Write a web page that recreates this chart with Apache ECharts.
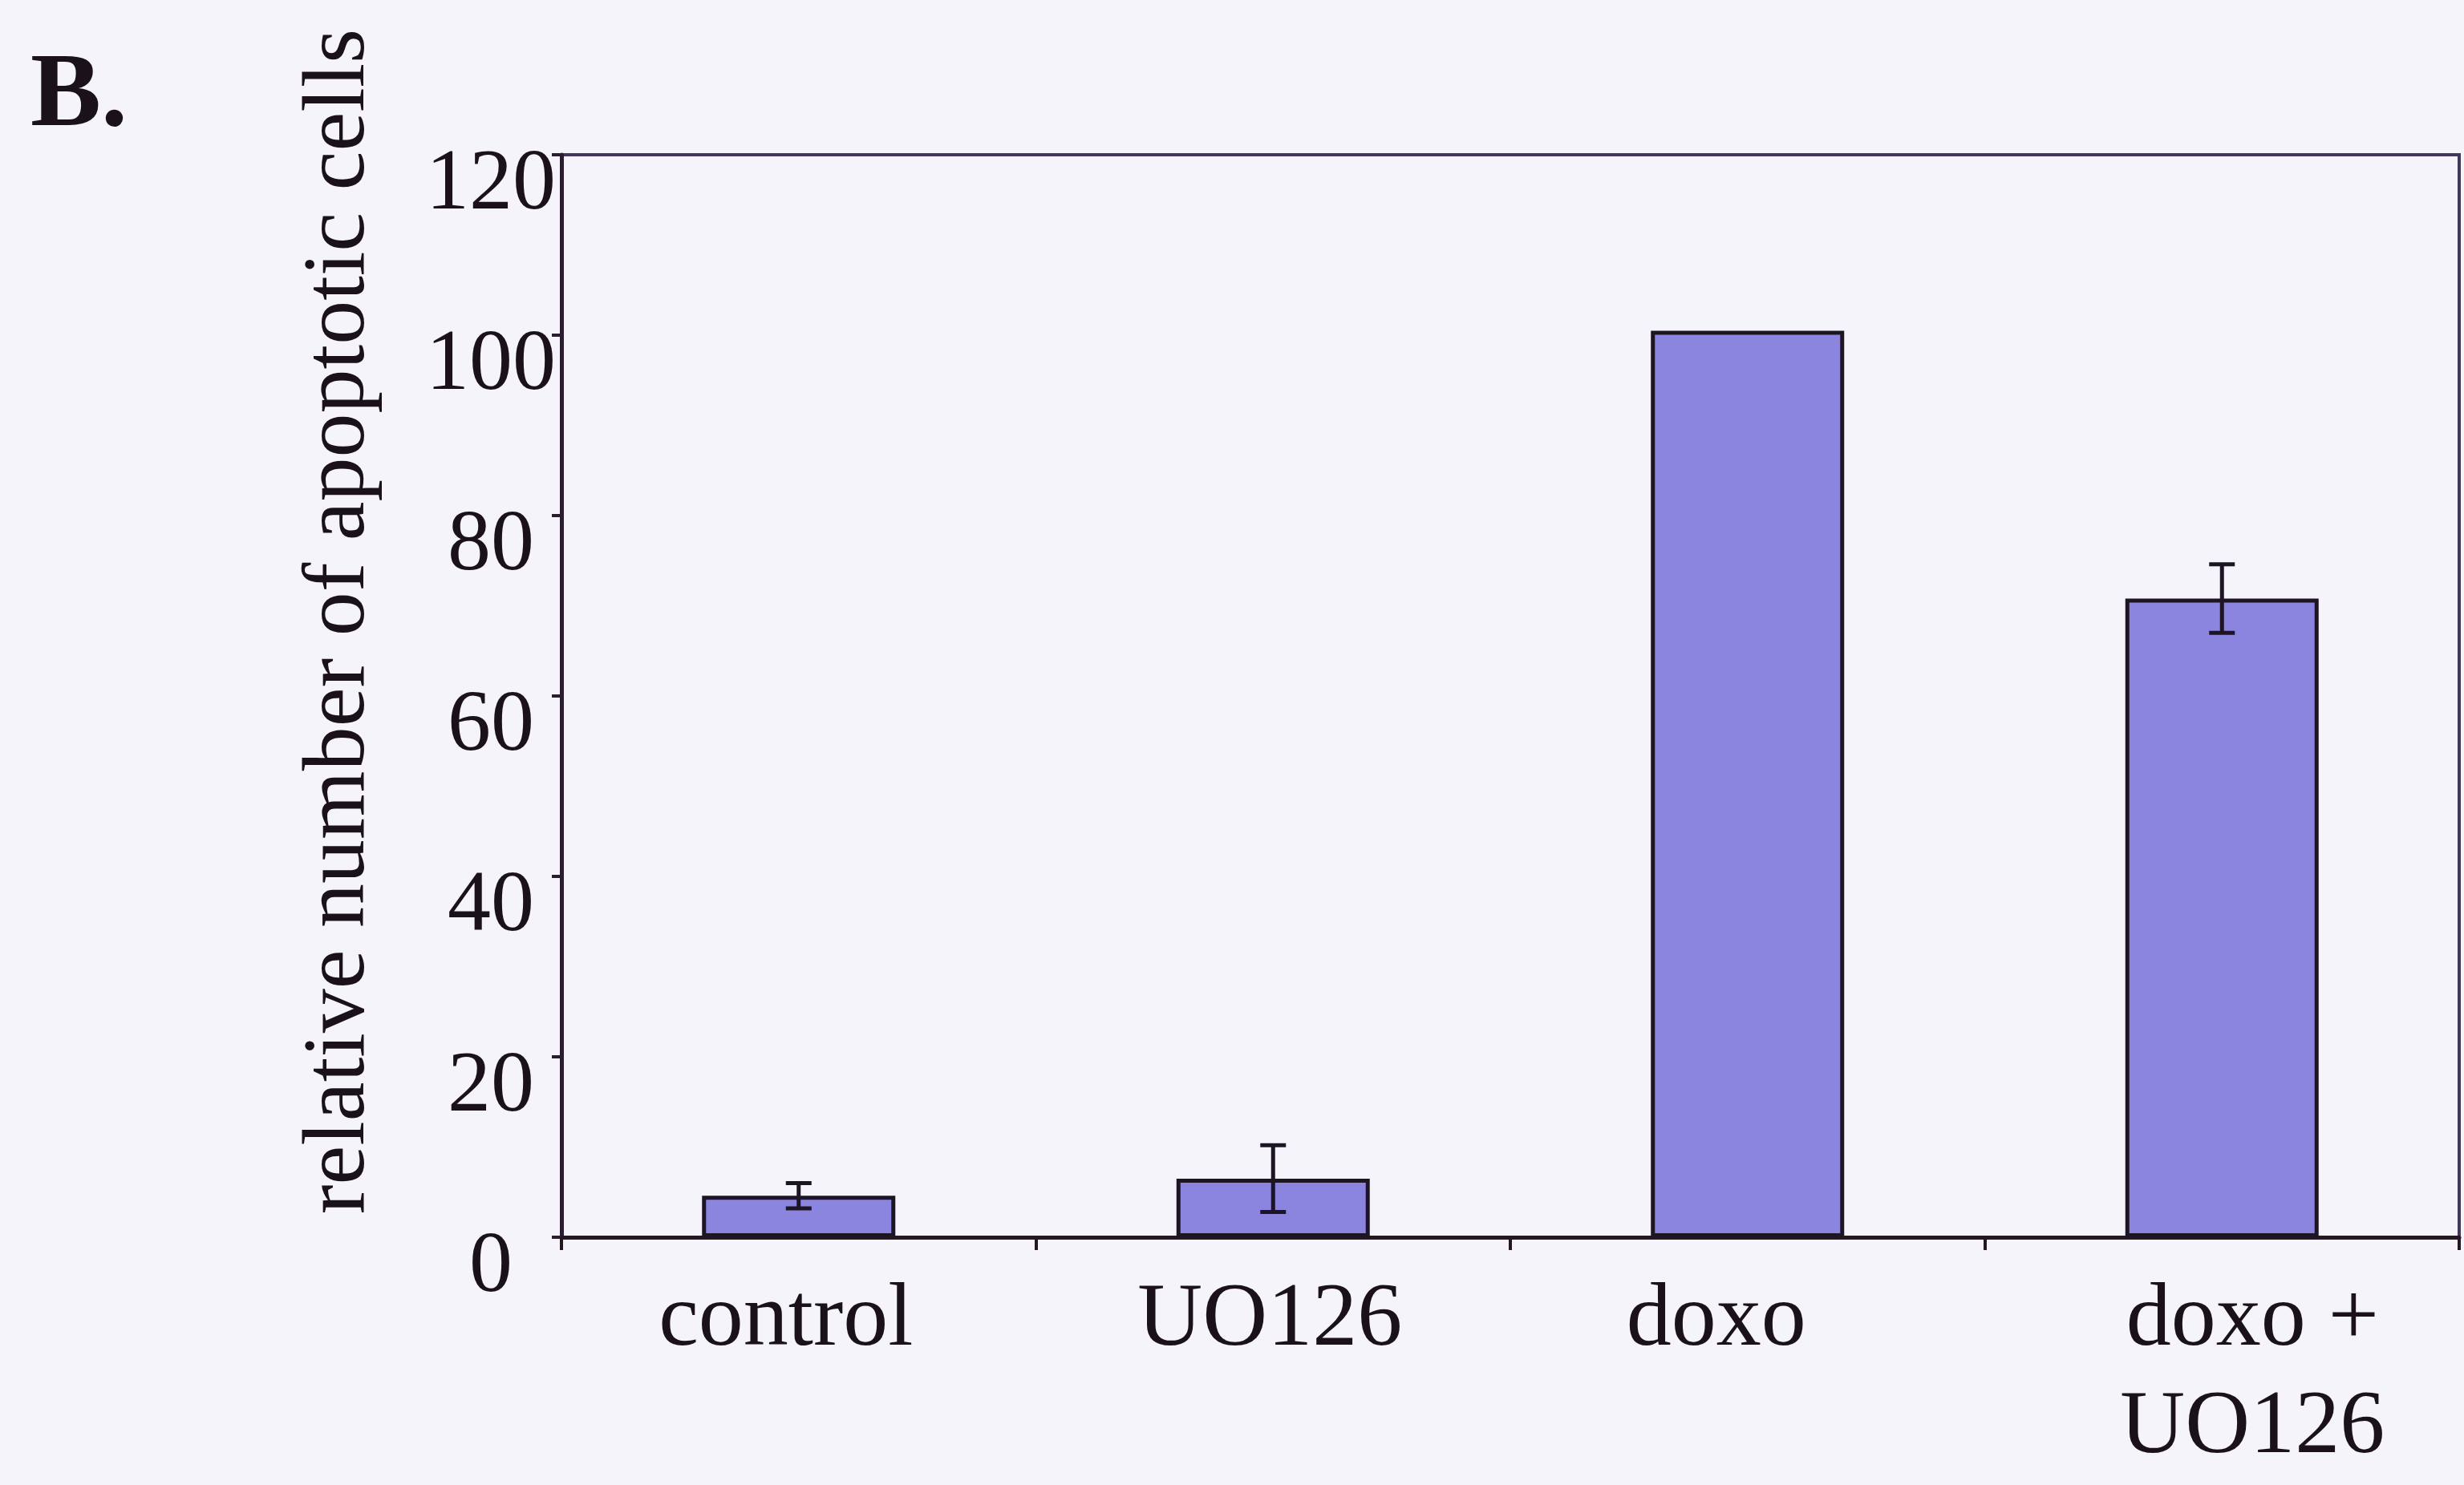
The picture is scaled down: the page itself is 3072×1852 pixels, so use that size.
<!DOCTYPE html>
<html>
<head>
<meta charset="utf-8">
<title>Relative number of apoptotic cells</title>
<script src="https://cdn.jsdelivr.net/npm/echarts@6/dist/echarts.min.js"></script>
<style>
  html, body { margin: 0; padding: 0; background: #f5f4fb; }
  #chart { width: 3072px; height: 1852px; }
</style>
</head>
<body>
<div id="chart"></div>
<script>
// Treatment groups and measured values
const categories = ['control', 'UO126', 'doxo', 'doxo +\nUO126'];
const values = [4.6, 6.5, 100.5, 70.8];
const errors = [1.4, 3.7, 0, 3.8];
const yTickValues = [0, 20, 40, 60, 80, 100, 120];

const SERIF = "'Liberation Serif', 'Times New Roman', serif";
const INK = '#1b1119';

// Horizontal nudges for the category labels (px, + moves right)
const labelShift = [-16, -4, -39, 38];

const chart = echarts.init(document.getElementById('chart'), null, { renderer: 'canvas' });

const option = {
  backgroundColor: '#f5f4fb',
  animation: false,
  grid: {
    left: 700, right: 6, top: 193, bottom: 309,
    outerBoundsMode: 'none',
    show: true,
    borderColor: '#43375a',
    borderWidth: 4,
    backgroundColor: 'transparent'
  },
  xAxis: {
    type: 'category',
    data: categories.map((c, i) => {
      const s = labelShift[i];
      return {
        value: c,
        textStyle: { padding: s >= 0 ? [0, 0, 0, 2 * s] : [0, -2 * s, 0, 0] }
      };
    }),
    axisLine: { lineStyle: { color: '#24171f', width: 5 } },
    axisTick: { show: true, length: 16, lineStyle: { color: '#24171f', width: 4 } },
    axisLabel: {
      fontFamily: SERIF, fontSize: 112, color: INK,
      lineHeight: 134, margin: 38, interval: 0
    },
    splitLine: { show: false }
  },
  yAxis: {
    type: 'value',
    min: 0, max: 120, interval: 20,
    axisLine: { show: true, lineStyle: { color: '#2a1d30', width: 5 } },
    axisTick: { show: true, length: 12, lineStyle: { color: '#2a1d30', width: 4 } },
    axisLabel: {
      fontFamily: SERIF, fontSize: 108, color: INK,
      // tick values are centred in a column left of the axis, just below their ticks
      margin: 88, align: 'center',
      verticalAlign: 'top', lineHeight: 78,
      formatter: v => (yTickValues.indexOf(v) >= 0 ? String(v) : '')
    },
    splitLine: { show: false }
  },
  graphic: [
    {
      type: 'text', left: 38, top: 56,
      style: { text: 'B.', font: 'bold 132px ' + SERIF, fill: INK }
    },
    {
      type: 'text', x: 424, y: 775, rotation: Math.PI / 2,
      style: {
        text: 'relative number of apoptotic cells',
        font: '110px ' + SERIF, fill: INK,
        align: 'center', verticalAlign: 'middle'
      }
    }
  ],
  series: [
    {
      type: 'bar',
      data: values,
      barWidth: 241,
      itemStyle: { color: '#8c85e0', borderColor: '#1d1524', borderWidth: 5 },
      z: 2
    },
    {
      type: 'custom',
      data: values.map((v, i) => [i, v, errors[i]]),
      z: 5,
      renderItem: function (params, api) {
        const i = api.value(0), v = api.value(1), e = api.value(2);
        if (!e) return null;
        const top = api.coord([i, v + e]);
        const bot = api.coord([i, v - e]);
        const hw = 16;
        const st = { stroke: '#1d1524', lineWidth: 5 };
        return {
          type: 'group',
          children: [
            { type: 'line', shape: { x1: top[0], y1: top[1], x2: bot[0], y2: bot[1] }, style: st },
            { type: 'line', shape: { x1: top[0] - hw, y1: top[1], x2: top[0] + hw, y2: top[1] }, style: st },
            { type: 'line', shape: { x1: bot[0] - hw, y1: bot[1], x2: bot[0] + hw, y2: bot[1] }, style: st }
          ]
        };
      }
    }
  ]
};

chart.setOption(option);
</script>
</body>
</html>
